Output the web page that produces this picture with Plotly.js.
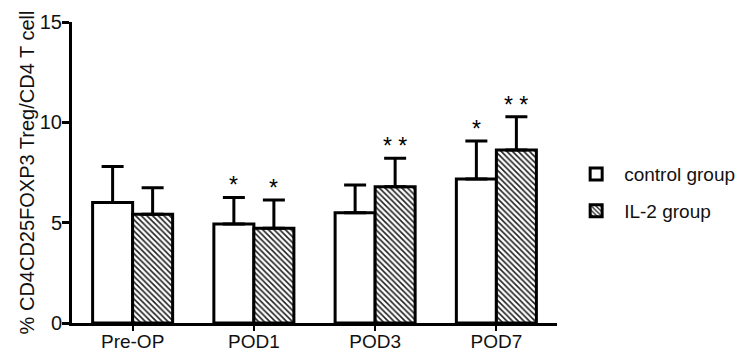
<!DOCTYPE html>
<html>
<head>
<meta charset="utf-8">
<script src="https://cdn.plot.ly/plotly-3.0.1.min.js"></script>
<style>html,body{margin:0;padding:0;background:#fff;}#chart{width:744px;height:353px;}</style>
</head>
<body>
<div id="chart"></div>
<script>
const categories = ["Pre-OP", "POD1", "POD3", "POD7"];
const controlValues = [6.0, 4.93, 5.5, 7.17];
const controlErrors = [1.8, 1.33, 1.38, 1.9];
const il2Values = [5.42, 4.72, 6.79, 8.62];
const il2Errors = [1.32, 1.41, 1.42, 1.66];
const controlSig = ["", "*", "", "*"];
const il2Sig = ["", "*", "* *", "* *"];
const seriesNames = ["control group", "IL-2 group"];

const FONT = "Arial, 'Liberation Sans', sans-serif";
const zeros = categories.map(() => 0);

const traces = [
  {
    type: "bar", name: seriesNames[0], x: categories, y: controlValues,
    legendgroup: "a",
    marker: {color: "#ffffff", line: {color: "#000", width: 3}},
    error_y: {type: "data", array: controlErrors, arrayminus: zeros, symmetric: false,
              color: "#000", thickness: 3, width: 11},
    hoverinfo: "skip"
  },
  {
    type: "bar", name: seriesNames[1], x: categories, y: il2Values,
    legendgroup: "b",
    marker: {color: "#ffffff", line: {color: "#000", width: 3},
             pattern: {shape: "\\", fgcolor: "#222", bgcolor: "#fff", size: 4, solidity: 0.4}},
    error_y: {type: "data", array: il2Errors, arrayminus: zeros, symmetric: false,
              color: "#000", thickness: 3, width: 11},
    hoverinfo: "skip"
  }
];

const annotations = [];
categories.forEach((c, i) => {
  if (controlSig[i]) annotations.push({x: c, y: controlValues[i] + controlErrors[i], xref: "x", yref: "y",
    text: controlSig[i], showarrow: false, xshift: -20, yanchor: "bottom", yshift: -3,
    font: {family: FONT, size: 23, color: "#000"}});
  if (il2Sig[i]) annotations.push({x: c, y: il2Values[i] + il2Errors[i], xref: "x", yref: "y",
    text: il2Sig[i], showarrow: false, xshift: 20, yanchor: "bottom", yshift: -3,
    font: {family: FONT, size: 23, color: "#000"}});
});

const layout = {
  width: 744, height: 353,
  margin: {l: 72, r: 187, t: 22, b: 30, autoexpand: false},
  paper_bgcolor: "#fff", plot_bgcolor: "#fff",
  font: {family: FONT, color: "#111", size: 19},
  barmode: "group", bargap: 0.34, bargroupgap: 0,
  showlegend: true,
  legend: {x: 1.023, y: 0.433, xanchor: "left", yanchor: "middle", itemwidth: 46,
           font: {family: FONT, size: 19, color: "#111"},
           traceorder: "grouped", tracegroupgap: 9, bgcolor: "rgba(0,0,0,0)"},
  xaxis: {
    type: "category", range: [-0.5, 3.5], automargin: false,
    showline: true, linecolor: "#000", linewidth: 3,
    ticks: "outside", ticklen: 5, tickwidth: 2, tickcolor: "#000",
    ticklabelstandoff: -6,
    showgrid: false, zeroline: false,
    tickfont: {family: FONT, size: 19, color: "#111"}
  },
  yaxis: {
    range: [0, 15], tickvals: [0, 5, 10, 15], automargin: false,
    showline: true, linecolor: "#000", linewidth: 3,
    ticks: "outside", ticklen: 7, tickwidth: 3, tickcolor: "#000",
    ticklabelstandoff: -4,
    showgrid: false, zeroline: false,
    tickfont: {family: FONT, size: 20, color: "#111"},
    title: {text: "% CD4CD25FOXP3 Treg/CD4 T cell", font: {family: FONT, size: 20, color: "#111"}, standoff: 0}
  },
  annotations: annotations
};

Plotly.newPlot("chart", traces, layout, {displayModeBar: false, staticPlot: true});
</script>
</body>
</html>
